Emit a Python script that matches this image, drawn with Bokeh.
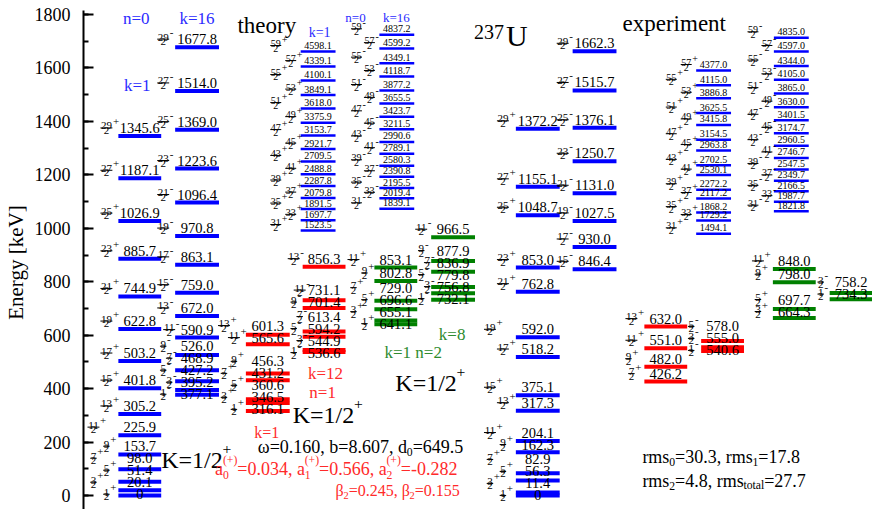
from bokeh.plotting import figure
from bokeh.models import Range1d, SingleIntervalTicker
from bokeh.core.properties import value
from bokeh.embed import file_html
from bokeh.resources import INLINE

# ---------------- data: level energies (keV) and spins (2J) ----------------
# theory, n=0 band (K=1/2+), k=1 (positive parity) and k=16 (negative parity)
th_g_pos_E = [0.0, 20.1, 51.4, 98.0, 153.7, 225.9, 305.2, 401.8, 503.2, 622.8, 744.9, 885.7, 1026.9, 1187.1, 1345.6]
th_g_pos_J = [1, 3, 5, 7, 9, 11, 13, 15, 17, 19, 21, 23, 25, 27, 29]
th_g_neg_E = [377.1, 395.2, 427.2, 468.9, 526.0, 590.9, 672.0, 759.0, 863.1, 970.8, 1096.4, 1223.6, 1369.0, 1514.0, 1677.8]
th_g_neg_J = [1, 3, 5, 7, 9, 11, 13, 15, 17, 19, 21, 23, 25, 27, 29]
# theory, n=1 band: k=1 (+) and k=12 (-)
th_r_pos_E = [316.1, 346.5, 360.6, 431.2, 456.3, 565.6, 601.3]
th_r_pos_J = [1, 3, 5, 7, 9, 11, 13]
th_r_neg_E = [536.6, 544.9, 594.2, 613.4, 701.4, 731.1, 856.3]
th_r_neg_J = [1, 3, 5, 7, 9, 11, 13]
# theory, n=2 band: k=1 (+) and k=8 (-)
th_v_pos_E = [641.1, 655.1, 696.6, 729.0, 802.8, 853.1]
th_v_pos_J = [1, 3, 5, 7, 9, 11]
th_v_neg_E = [732.1, 756.8, 779.8, 836.9, 877.9, 966.5]
th_v_neg_J = [1, 3, 5, 7, 9, 11]
# theory, high-spin continuation of n=0 (inset scale)
th_hi_pos_E = [1523.5, 1697.7, 1891.5, 2079.8, 2287.8, 2488.8, 2709.5, 2921.7, 3153.7, 3375.9, 3618.0, 3849.1, 4100.1, 4339.1, 4598.1]
th_hi_pos_J = [31, 33, 35, 37, 39, 41, 43, 45, 47, 49, 51, 53, 55, 57, 59]
th_hi_neg_E = [1839.1, 2019.4, 2195.5, 2390.8, 2580.3, 2789.1, 2990.6, 3211.5, 3423.7, 3655.5, 3877.2, 4118.7, 4349.1, 4599.2, 4837.2]
th_hi_neg_J = [31, 33, 35, 37, 39, 41, 43, 45, 47, 49, 51, 53, 55, 57, 59]
# experiment
ex_g_pos_E = [0.0, 11.4, 56.3, 82.9, 162.3, 204.1, 317.3, 375.1, 518.2, 592.0, 762.8, 853.0, 1048.7, 1155.1, 1372.2]
ex_g_pos_J = [1, 3, 5, 7, 9, 11, 13, 15, 17, 19, 21, 23, 25, 27, 29]
ex_g_neg_E = [846.4, 930.0, 1027.5, 1131.0, 1250.7, 1376.1, 1515.7, 1662.3]
ex_g_neg_J = [15, 17, 19, 21, 23, 25, 27, 29]
ex_r_pos_E = [426.2, 482.0, 551.0, 632.0]
ex_r_pos_J = [7, 9, 11, 13]
ex_r_neg_E = [540.6, 555.0, 578.0]
ex_r_neg_J = [1, 3, 5]
ex_v_pos_E = [664.3, 697.7, 798.0, 848.0]
ex_v_pos_J = [3, 5, 9, 11]
ex_v_neg_E = [734.3, 758.2]
ex_v_neg_J = [1, 3]
ex_hi_pos_E = [1494.1, 1729.2, 1868.2, 2117.2, 2272.2, 2530.1, 2702.5, 2963.8, 3154.5, 3415.8, 3625.5, 3886.8, 4115.0, 4377.0]
ex_hi_pos_J = [31, 33, 35, 37, 39, 41, 43, 45, 47, 49, 51, 53, 55, 57]
ex_hi_neg_E = [1821.8, 1987.7, 2166.5, 2349.7, 2547.5, 2746.7, 2960.5, 3174.7, 3401.5, 3630.0, 3865.0, 4105.0, 4344.0, 4597.0, 4835.0]
ex_hi_neg_J = [31, 33, 35, 37, 39, 41, 43, 45, 47, 49, 51, 53, 55, 57, 59]
# model parameters / rms
omega, b_par, d0 = "0.160", "8.607", "649.5"
a0, a1, a2 = "0.034", "0.566", "-0.282"
beta2_a, beta2_b = "0.245", "0.155"
rms0, rms1, rms2, rms_tot = "30.3", "17.8", "4.8", "27.7"
y_tick_interval = 200

# ---------------- layout / style ----------------
FONT = "Liberation Serif"
BLUE, RED, GREEN = "#0000ff", "#ff0000", "#008000"
TBLUE, TRED, TGREEN = "#2b2bff", "#ff2a2a", "#2e8b2e"
W, H = 872, 509
TOP = 10                 # page y of the frame top
K = 481.0 / 1800.0       # px per keV
Y1 = 1800 + (14 - TOP) / K
Y0 = -(H - 495) / K


def ykev(py):
    return Y1 - (py - TOP) / K


p = figure(width=W, height=H, x_range=Range1d(80, W), y_range=Range1d(Y0, Y1),
           output_backend="svg", toolbar_location=None, x_axis_location=None,
           min_border_left=80, min_border_right=0, min_border_top=TOP, min_border_bottom=0,
           outline_line_color=None)
p.grid.visible = False
ax = p.yaxis[0]
ax.ticker = SingleIntervalTicker(interval=y_tick_interval, num_minor_ticks=2)
ax.major_tick_in = 10
ax.major_tick_out = 0
ax.minor_tick_in = 5
ax.minor_tick_out = 0
ax.axis_line_width = 2
ax.major_tick_line_width = 2
ax.minor_tick_line_width = 2
ax.axis_line_color = "black"
ax.major_tick_line_color = "black"
ax.minor_tick_line_color = "black"
ax.major_label_text_font = FONT
ax.major_label_text_font_size = "18px"
ax.major_label_text_color = "black"
ax.major_label_standoff = 13
ax.axis_label = "Energy  [keV]"
ax.axis_label_text_font = FONT
ax.axis_label_text_font_size = "21px"
ax.axis_label_text_font_style = "normal"
ax.axis_label_text_color = "black"
ax.axis_label_standoff = 4


def inset(E, py_lo, py_hi):
    d_lo, d_hi = ykev(py_lo), ykev(py_hi)
    kk = (d_hi - d_lo) / (E[-1] - E[0])
    return Range1d(E[0] + (Y0 - d_lo) / kk, E[0] + (Y1 - d_lo) / kk), K * kk


r_tp, ppu_tp = inset(th_hi_pos_E, 230, 51)
r_tn, ppu_tn = inset(th_hi_neg_E, 208.3, 34.3)
r_ep, ppu_ep = inset(ex_hi_pos_E, 233.3, 70)
r_en, ppu_en = inset(ex_hi_neg_E, 210.7, 37.3)
p.extra_y_ranges = {"tp": r_tp, "tn": r_tn, "ep": r_ep, "en": r_en}


def spread(u, s):
    n = len(u)
    v = [u[i] - i * s for i in range(n)]
    blocks = []
    for val in v:
        blocks.append([val, 1])
        while len(blocks) > 1 and blocks[-2][0] / blocks[-2][1] > blocks[-1][0] / blocks[-1][1]:
            bb = blocks.pop()
            blocks[-1][0] += bb[0]
            blocks[-1][1] += bb[1]
    out = []
    for sm, c in blocks:
        out += [sm / c] * c
    return [out[i] + i * s for i in range(n)]


def column(E, J, par, color, x0, x1, fx, rng="default", ppu=K, lw=4, fs=14.5, ffs=11, off=8, sp=12):
    n = len(E)
    p.segment(x0=[x0] * n, x1=[x1] * n, y0=E, y1=E, line_color=color, line_width=lw, y_range_name=rng)
    u = [e * ppu + off for e in E]
    if sp:
        u = spread(u, sp)
    ly = [v / ppu for v in u]
    labels = ["0" if e == 0 else f"{e:.1f}" for e in E]
    xc = (x0 + x1) / 2
    p.text(x=[xc] * n, y=ly, text=labels, text_font=value(FONT), text_font_size=value(f"{fs}px"),
           text_align="center", text_baseline="middle", text_color="black", y_range_name=rng)
    fxs, state = [], 0
    for i in range(n):
        if not sp:
            state = i % 2
        elif i > 0 and u[i] - u[i - 1] < 20:
            state = 1 - state
        else:
            state = 0
        fxs.append(fx[state])
    nums = [str(j) for j in J]
    bw = [len(s) * ffs * 0.5 + 1 for s in nums]
    p.text(x=fxs, y=ly, text=nums, text_font=value(FONT), text_font_size=value(f"{ffs}px"),
           text_align="center", text_baseline="bottom", y_offset=1.5, text_color="black", y_range_name=rng)
    p.text(x=fxs, y=ly, text=["2"] * n, text_font=value(FONT), text_font_size=value(f"{ffs}px"),
           text_align="center", text_baseline="top", y_offset=-1, text_color="black", y_range_name=rng)
    p.segment(x0=[f - w / 2 for f, w in zip(fxs, bw)], x1=[f + w / 2 for f, w in zip(fxs, bw)],
              y0=ly, y1=ly, line_color="black", line_width=1, y_range_name=rng)
    p.text(x=[f + w / 2 + 0.5 for f, w in zip(fxs, bw)], y=ly, text=[par] * n, text_font=value(FONT),
           text_font_size=value(f"{ffs}px"), text_align="left", text_baseline="bottom", y_offset=-3,
           text_color="black", y_range_name=rng)


# theory
column(th_g_pos_E, th_g_pos_J, "+", BLUE, 115, 158, (103, 90))
column(th_g_neg_E, th_g_neg_J, "-", BLUE, 172, 216, (160, 166))
column(th_r_pos_E, th_r_pos_J, "+", RED, 243, 287, (231, 221))
column(th_r_neg_E, th_r_neg_J, "-", RED, 300, 343, (291, 297))
column(th_v_pos_E, th_v_pos_J, "+", GREEN, 372, 415, (362, 351))
column(th_v_neg_E, th_v_neg_J, "-", GREEN, 429, 473, (419, 425))
column(th_hi_pos_E, th_hi_pos_J, "+", BLUE, 298, 333, (273, 288), rng="tp", ppu=ppu_tp, lw=2.5, fs=10, ffs=10, off=6, sp=None)
column(th_hi_neg_E, th_hi_neg_J, "-", BLUE, 377, 412, (354, 367), rng="tn", ppu=ppu_tn, lw=2.5, fs=10, ffs=10, off=6, sp=None)
# experiment
column(ex_g_pos_E, ex_g_pos_J, "+", BLUE, 514, 558, (501, 488))
column(ex_g_neg_E, ex_g_neg_J, "-", BLUE, 571, 615, (561, 561))
column(ex_r_pos_E, ex_r_pos_J, "+", RED, 643, 686, (630, 627))
column(ex_r_neg_E, ex_r_neg_J, "-", RED, 700, 743, (690, 690))
column(ex_v_pos_E, ex_v_pos_J, "+", GREEN, 772, 815, (757, 757))
column(ex_v_neg_E, ex_v_neg_J, "-", GREEN, 829, 872, (820, 820))
column(ex_hi_pos_E, ex_hi_pos_J, "+", BLUE, 695, 730, (670, 685), rng="ep", ppu=ppu_ep, lw=2.5, fs=10, ffs=10, off=6, sp=None)
column(ex_hi_neg_E, ex_hi_neg_J, "-", BLUE, 773, 808, (752, 766), rng="en", ppu=ppu_en, lw=2.5, fs=10, ffs=10, off=6, sp=None)

# ---------------- texts ----------------
W_EM = {".": .25, ",": .25, " ": .25, "=": .564, "-": .333, "+": .564, "(": .333, ")": .333,
        "a": .444, "b": .5, "d": .5, "r": .333, "m": .778, "s": .389, "t": .278, "o": .5,
        "l": .278, "ω": .68, "β": .5, "K": .722, "/": .278, "k": .5, "n": .5}


def tw(s, fs):
    return sum(W_EM.get(ch, 0.5) for ch in s) * fs


def txt(x, py, s, color="black", fs=17, align="center", baseline="middle"):
    p.text(x=[x], y=[ykev(py)], text=[s], text_font=value(FONT), text_font_size=value(f"{fs}px"),
           text_color=color, text_align=align, text_baseline=baseline)


def rich(x, py, parts, color, fs):
    y = ykev(py)
    sfs = round(fs * 0.65, 1)

    def put(xx, s, f, yo):
        p.text(x=[xx], y=[y], text=[s], text_font=value(FONT), text_font_size=value(f"{f}px"),
               text_color=color, text_align="left", text_baseline="alphabetic", y_offset=yo)

    for part in parts:
        mode = part[0]
        if mode == "n":
            put(x, part[1], fs, 0)
            x += tw(part[1], fs)
        elif mode == "sub":
            put(x, part[1], sfs, fs * 0.3)
            x += tw(part[1], sfs)
        elif mode == "sup":
            put(x, part[1], sfs, -fs * 0.45)
            x += tw(part[1], sfs)
        elif mode == "ss":
            put(x, part[1], sfs, fs * 0.35)
            put(x, part[2], sfs, -fs * 0.45)
            x += max(tw(part[1], sfs), tw(part[2], sfs))


txt(133, 18, "n=0", TBLUE, 17)
txt(194, 18, "k=16", TBLUE, 17)
txt(134, 85, "k=1", TBLUE, 17)
txt(264, 25, "theory", "black", 23)
txt(317, 32, "k=1", TBLUE, 14)
txt(353, 17, "n=0", TBLUE, 13)
txt(394, 17, "k=16", TBLUE, 13)
txt(502, 31, "237", "black", 20, align="right", baseline="alphabetic")
txt(504, 35, "U", "black", 30, align="left", baseline="alphabetic")
txt(673, 23, "experiment", "black", 23)
txt(323, 373, "k=12", TRED, 17)
txt(320, 392, "n=1", TRED, 17)
txt(264, 432, "k=1", TRED, 16)
txt(450, 334, "k=8", TGREEN, 17)
txt(411, 352, "k=1 n=2", TGREEN, 17)
rich(158, 459, [("n", "K=1/2"), ("sup", "+")], "black", 24)
rich(290, 414, [("n", "K=1/2"), ("sup", "+")], "black", 24)
rich(393, 382, [("n", "K=1/2"), ("sup", "+")], "black", 24)
rich(255, 446, [("n", f"ω={omega}, b={b_par}, d"), ("sub", "0"), ("n", f"={d0}")], "black", 18)
rich(212, 468, [("n", "a"), ("ss", "0", "(+)"), ("n", f"={a0}, a"), ("ss", "1", "(+)"),
                ("n", f"={a1}, a"), ("ss", "2", "(+)"), ("n", f"={a2}")], TRED, 18)
rich(333, 490, [("n", "β"), ("sub", "2"), ("n", f"={beta2_a}, β"), ("sub", "2"), ("n", f"={beta2_b}")], TRED, 16)
rich(641, 456, [("n", "rms"), ("sub", "0"), ("n", f"={rms0}, rms"), ("sub", "1"), ("n", f"={rms1}")], "black", 18)
rich(641, 480, [("n", "rms"), ("sub", "2"), ("n", f"={rms2}, rms"), ("sub", "total"), ("n", f"={rms_tot}")], "black", 18)

open("out.html", "w").write(file_html(p, INLINE))
